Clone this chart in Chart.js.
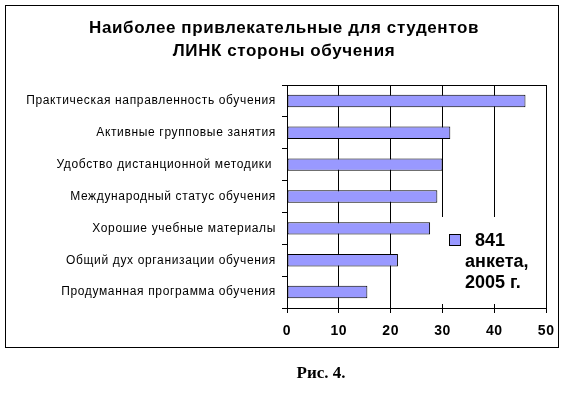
<!DOCTYPE html>
<html><head><meta charset="utf-8">
<script src="https://cdn.jsdelivr.net/npm/chart.js@4"></script>
<style>html,body{margin:0;padding:0;background:#fff;}canvas{display:block}</style>
</head><body>
<canvas id="c" width="564" height="397"></canvas>
<script>
const titleLines = ['Наиболее привлекательные для студентов', 'ЛИНК стороны обучения'];
const categories = [
  'Практическая направленность обучения',
  'Активные групповые занятия',
  'Удобство дистанционной методики ',
  'Международный статус обучения',
  'Хорошие учебные материалы',
  'Общий дух организации обучения',
  'Продуманная программа обучения'
];
const values = [46, 31.5, 30, 29, 27.6, 21.4, 15.5];
const xMin = 0, xMax = 50, xStep = 10;
const legendLines = ['  841', 'анкета,', '2005 г.'];
const captionText = 'Рис. 4.';
const barColor = '#9999FF';

const decor = {
  id: 'decor',
  beforeDraw(chart) { chart.ctx.letterSpacing = '0.6px'; },
  beforeDatasetsDraw(chart) {
    const ctx = chart.ctx, a = chart.chartArea;
    ctx.letterSpacing = '0px';
    ctx.save();
    ctx.strokeStyle = '#000'; ctx.lineWidth = 1;
    ctx.beginPath(); ctx.moveTo(a.left, Math.round(a.top) + 0.5); ctx.lineTo(a.right, Math.round(a.top) + 0.5); ctx.stroke();
    ctx.fillStyle = '#fff';
    ctx.fillRect(a.left + 150, a.top + 132, a.right - 1 - (a.left + 150), a.bottom - 4 - (a.top + 132));
    ctx.restore();
  },
  afterDatasetsDraw(chart) {
    const ctx = chart.ctx, a = chart.chartArea;
    ctx.save();
    const sx = a.left + 162, sy = a.top + 149;
    ctx.fillStyle = chart.data.datasets[0].backgroundColor;
    ctx.fillRect(sx, sy, 12, 12);
    ctx.strokeStyle = '#000'; ctx.lineWidth = 1;
    ctx.strokeRect(sx + 0.5, sy + 0.5, 11, 11);
    ctx.fillStyle = '#000';
    ctx.font = 'bold 18px "Liberation Sans", Arial, sans-serif';
    ctx.textBaseline = 'alphabetic'; ctx.textAlign = 'left';
    legendLines.forEach((t, i) => ctx.fillText(t, a.left + 178, a.top + 161 + i * 21));
    ctx.restore();
    ctx.letterSpacing = '0.65px';
  },
  afterDraw(chart) {
    const ctx = chart.ctx;
    ctx.letterSpacing = '0px';
    ctx.save();
    ctx.strokeStyle = '#000'; ctx.lineWidth = 1;
    ctx.strokeRect(5.5, 5.5, 553, 342);
    ctx.fillStyle = '#000';
    ctx.font = 'bold 17px "Liberation Serif", "Times New Roman", serif';
    ctx.textAlign = 'center'; ctx.textBaseline = 'alphabetic';
    ctx.fillText(captionText, 321, 378);
    ctx.restore();
  }
};

new Chart(document.getElementById('c'), {
  type: 'bar',
  data: {
    labels: categories,
    datasets: [{
      label: legendLines.join(' ').trim(),
      data: values,
      backgroundColor: barColor,
      borderColor: '#000',
      borderWidth: 1,
      borderSkipped: false,
      barPercentage: 0.39,
      categoryPercentage: 1
    }]
  },
  options: {
    indexAxis: 'y',
    responsive: false,
    animation: false,
    devicePixelRatio: 1,
    layout: { padding: { left: 21, right: 17, top: 0, bottom: 0 } },
    plugins: {
      legend: { display: false },
      tooltip: { enabled: false },
      title: {
        display: true,
        text: titleLines,
        color: '#000',
        font: { family: '"Liberation Sans", Arial, sans-serif', size: 17, weight: 'bold', lineHeight: 23 / 17 },
        padding: { top: 17, bottom: 22 }
      }
    },
    scales: {
      x: {
        type: 'linear',
        min: xMin, max: xMax,
        ticks: { stepSize: xStep, color: '#000', padding: 10, font: { family: '"Liberation Sans", Arial, sans-serif', size: 14, weight: 'bold' } },
        grid: { color: '#000', lineWidth: 1, tickLength: 5, tickColor: '#000' },
        border: { color: '#000', width: 1 },
        afterFit(s) { s.height = 89; }
      },
      y: {
        type: 'category',
        ticks: { z: 1, color: '#000', padding: 6, font: { family: '"Liberation Sans", Arial, sans-serif', size: 12 } },
        grid: { drawOnChartArea: false, offset: true, tickLength: 5, color: '#000' },
        border: { color: '#000', width: 1 },
        afterFit(s) { s.width = 266; }
      }
    }
  },
  plugins: [decor]
});
</script>
</body></html>
